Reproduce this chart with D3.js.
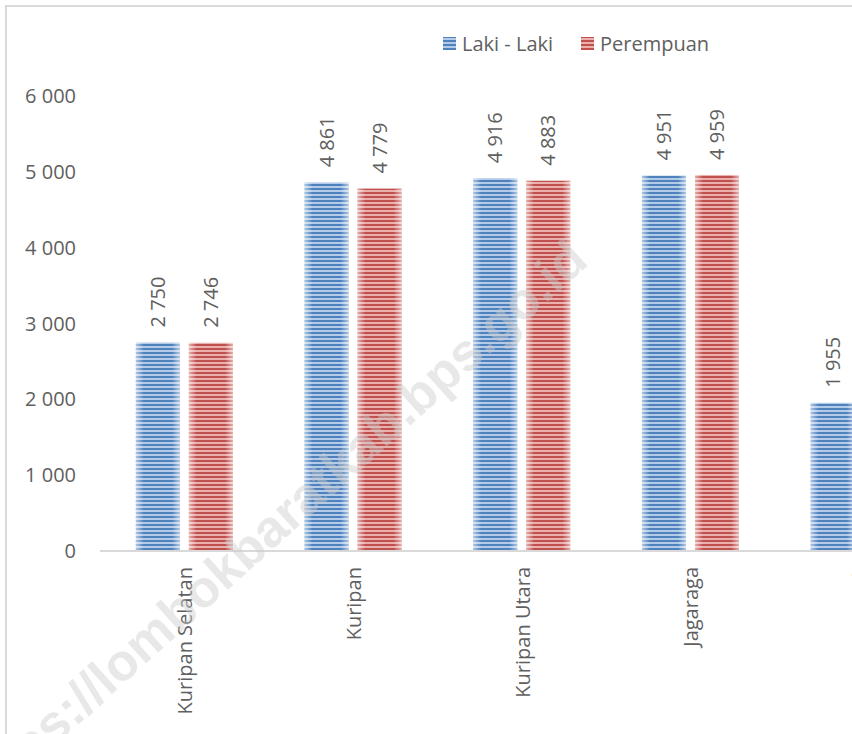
<!DOCTYPE html>
<html>
<head>
<meta charset="utf-8">
<script src="https://cdn.jsdelivr.net/npm/d3@7"></script>
<style>
  html, body { margin: 0; padding: 0; background: #fff; }
  svg { display: block; }
</style>
</head>
<body>
<svg id="chart" width="852" height="734"></svg>
<script>
const categories = ["Kuripan Selatan", "Kuripan", "Kuripan Utara", "Jagaraga", "Giri Sasak"];
const seriesNames = ["Laki - Laki", "Perempuan"];
const lakiLaki = [2750, 4861, 4916, 4951, 1955];
const perempuan = [2746, 4779, 4883, 4959, null];
const yTicks = [0, 1000, 2000, 3000, 4000, 5000, 6000];
const watermarkText = "https://lombokbaratkab.bps.go.id";

const W = 852, H = 734;
const svg = d3.select("#chart");
const font = "'Open Sans', 'Liberation Sans', sans-serif";
const textColor = "#606060";
const fs = 20;

const fmt = v => d3.format(",")(v).replace(/,/g, " ");

// border
svg.append("path")
  .attr("d", `M6,${H} L6,6 L${W},6`)
  .attr("fill", "none").attr("stroke", "#d9d9d9").attr("stroke-width", 2);

const defs = svg.append("defs");
const colors = [
  { dark: "#4f81bd", light: "#b3cbe9", id: "blue" },
  { dark: "#c0504d", light: "#eab0ae", id: "red" }
];
colors.forEach(c => {
  const p = defs.append("pattern").attr("id", "pat-" + c.id)
    .attr("patternUnits", "userSpaceOnUse").attr("width", 8).attr("height", 4);
  p.append("rect").attr("width", 8).attr("height", 4).attr("fill", c.light);
  p.append("rect").attr("y", 0).attr("width", 8).attr("height", 2).attr("fill", c.dark);
});
const g = defs.append("linearGradient").attr("id", "edge").attr("x1", 0).attr("x2", 1).attr("y1", 0).attr("y2", 0);
[[0, 0.55], [0.18, 0], [0.82, 0], [1, 0.55]].forEach(([o, a]) =>
  g.append("stop").attr("offset", o).attr("stop-color", "#fff").attr("stop-opacity", a));

const x0 = d3.scaleBand().domain(categories).range([100, 100 + 168.7 * categories.length]).padding(0);
const x1 = d3.scaleBand().domain(seriesNames).range([0, x0.bandwidth()])
  .paddingInner(9 / 53).paddingOuter(0.6766);
const y = d3.scaleLinear().domain([0, 6000]).range([551, 96]);

// y labels
svg.append("g").selectAll("text").data(yTicks).join("text")
  .attr("x", 76).attr("y", d => y(d)).attr("dy", "0.35em")
  .attr("text-anchor", "end").attr("font-family", font).attr("font-size", fs)
  .attr("fill", textColor).text(d => fmt(d));

const data = [];
categories.forEach((c, i) => {
  [lakiLaki[i], perempuan[i]].forEach((v, j) => {
    if (v != null) data.push({ cat: c, s: seriesNames[j], v, ci: j });
  });
});

const bars = svg.append("g");
bars.selectAll("rect.bar").data(data).join("rect").attr("class", "bar")
  .attr("x", d => x0(d.cat) + x1(d.s)).attr("width", x1.bandwidth())
  .attr("y", d => y(d.v)).attr("height", d => y(0) - y(d.v))
  .attr("fill", d => `url(#pat-${colors[d.ci].id})`);
bars.selectAll("rect.edge").data(data).join("rect").attr("class", "edge")
  .attr("x", d => x0(d.cat) + x1(d.s)).attr("width", x1.bandwidth())
  .attr("y", d => y(d.v)).attr("height", d => y(0) - y(d.v))
  .attr("fill", "url(#edge)");

// value labels
svg.append("g").selectAll("text").data(data).join("text")
  .attr("transform", d => `translate(${x0(d.cat) + x1(d.s) + x1.bandwidth() / 2},${y(d.v) - 15}) rotate(-90)`)
  .attr("dy", "0.35em").attr("text-anchor", "start")
  .attr("font-family", font).attr("font-size", fs).attr("fill", textColor)
  .text(d => fmt(d.v));

// x axis line
svg.append("line").attr("x1", 100).attr("x2", W).attr("y1", y(0)).attr("y2", y(0))
  .attr("stroke", "#d9d9d9").attr("stroke-width", 2);

// category labels
svg.append("g").selectAll("text").data(categories).join("text")
  .attr("transform", d => `translate(${x0(d) + x0.bandwidth() / 2 + 1},${y(0) + 16}) rotate(-90)`)
  .attr("dy", "0.35em").attr("text-anchor", "end")
  .attr("font-family", font).attr("font-size", fs).attr("fill", textColor)
  .text(d => d);

// legend
const legend = svg.append("g");
seriesNames.forEach((s, i) => {
  const lx = [443, 581][i];
  legend.append("rect").attr("x", lx).attr("y", 37).attr("width", 13).attr("height", 13)
    .attr("fill", `url(#pat-${colors[i].id})`);
  legend.append("text").attr("x", lx + 19).attr("y", 44).attr("dy", "0.35em")
    .attr("font-family", font).attr("font-size", fs).attr("fill", textColor).text(s);
});

// watermark
svg.append("text")
  .attr("transform", "translate(578,250) rotate(-42)")
  .attr("text-anchor", "end").attr("dy", "0.35em")
  .attr("font-family", "'Liberation Sans', Arial, sans-serif").attr("font-weight", "bold")
  .attr("font-size", 52).attr("fill", "rgb(205,205,205)").attr("fill-opacity", 0.45)
  .text(watermarkText);
</script>
</body>
</html>
